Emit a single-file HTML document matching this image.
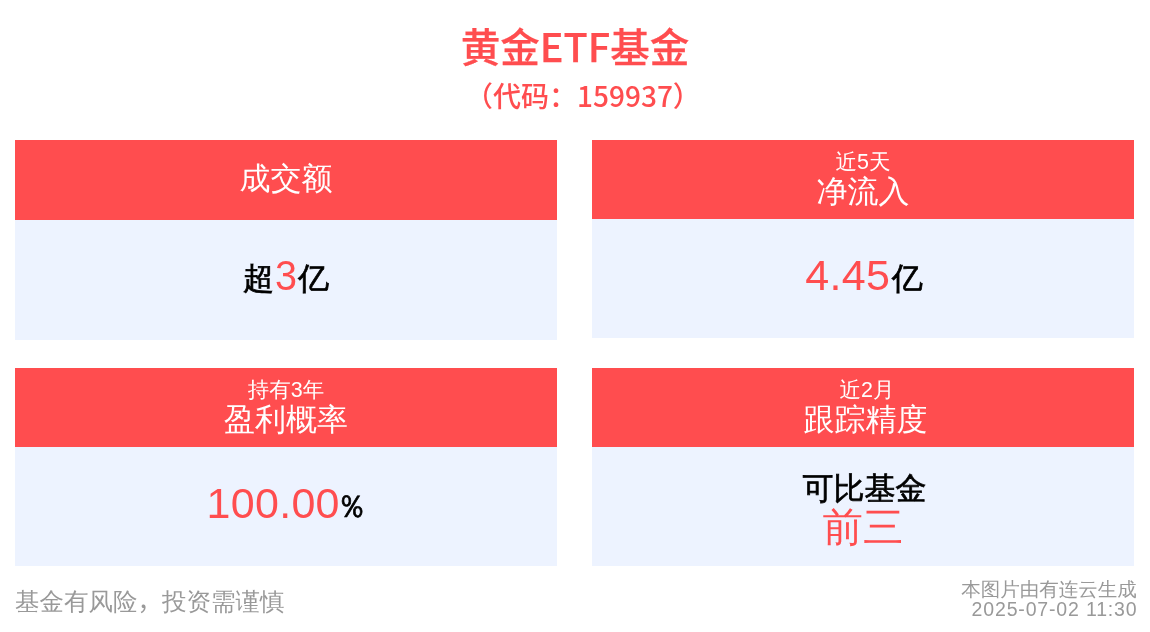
<!DOCTYPE html>
<html lang="zh-CN">
<head>
<meta charset="utf-8">
<title>黄金ETF基金</title>
<style>
html,body{margin:0;padding:0;background:#fff;}
body{width:1150px;height:632px;position:relative;overflow:hidden;
  font-family:"Liberation Sans","WenQuanYi Zen Hei",sans-serif;}
.title{position:absolute;left:0;width:1150px;text-align:center;color:#ff4d4f;white-space:nowrap;}
.t1{top:18px;font-size:39.6px;line-height:54px;font-weight:500;-webkit-text-stroke:0.25px #ff4d4f;font-family:"Noto Sans CJK SC","Liberation Sans",sans-serif;}
.t2{top:77px;left:8px;font-size:28px;line-height:36px;font-weight:500;font-family:"Noto Sans CJK SC","Liberation Sans",sans-serif;}
.card{position:absolute;width:542px;}
.hd{position:absolute;left:0;top:0;width:100%;background:#ff4d4f;color:#fff;text-align:center;}
.bd{position:absolute;left:0;width:100%;background:#edf3ff;text-align:center;}
.hd .sub{position:absolute;left:0;width:100%;font-size:21.5px;line-height:24px;white-space:nowrap;}
.hd .main{position:absolute;left:0;width:100%;font-size:31px;line-height:40px;white-space:nowrap;}
.val{position:absolute;left:0;width:100%;white-space:nowrap;color:#000;-webkit-text-stroke:0.7px #000;}
.val .red, .val.red{-webkit-text-stroke:0;}
.red{color:#ff4d4f;}
.foot{position:absolute;color:#999;white-space:nowrap;}
</style>
</head>
<body>
<div class="title t1">黄金ETF基金</div>
<div class="title t2">（代码：159937）</div>

<div class="card" style="left:15px;top:140px;height:200px;">
  <div class="hd" style="height:80px;"><div class="main" style="top:18.5px;">成交额</div></div>
  <div class="bd" style="top:80px;height:120px;"><div class="val" style="top:29px;font-size:31px;line-height:50px;">超<span class="red" style="font-size:43px;position:relative;top:1.2px;display:inline-block;transform:scaleX(0.92);">3</span>亿</div></div>
</div>

<div class="card" style="left:592px;top:140px;height:198px;">
  <div class="hd" style="height:79px;"><div class="sub" style="top:10px;">近5天</div><div class="main" style="top:31.5px;">净流入</div></div>
  <div class="bd" style="top:79px;height:119px;"><div class="val" style="top:29.5px;left:1px;font-size:31px;line-height:50px;"><span class="red" style="font-size:43px;letter-spacing:0.3px;position:relative;top:1.2px;">4.45</span><span style="margin-left:1.4px">亿</span></div></div>
</div>

<div class="card" style="left:15px;top:368px;height:198px;">
  <div class="hd" style="height:79px;"><div class="sub" style="top:10px;">持有3年</div><div class="main" style="top:31.5px;">盈利概率</div></div>
  <div class="bd" style="top:79px;height:119px;"><div class="val" style="top:29.5px;font-size:31px;line-height:50px;"><span class="red" style="font-size:43px;letter-spacing:0.3px;position:relative;top:1.2px;">100.00</span><span style="font-family:'WenQuanYi Zen Hei',sans-serif;margin-left:1.4px;margin-right:2.6px;">%</span></div></div>
</div>

<div class="card" style="left:592px;top:368px;height:198px;">
  <div class="hd" style="height:79px;"><div class="sub" style="top:10px;left:4px;">近2月</div><div class="main" style="top:31.5px;left:2.4px;">跟踪精度</div></div>
  <div class="bd" style="top:79px;height:119px;">
    <div class="val" style="top:21.5px;left:1.5px;font-size:31px;line-height:40px;">可比基金</div>
    <div class="val red" style="top:54.5px;font-size:40.5px;line-height:50px;">前三</div>
  </div>
</div>

<div class="foot" style="left:15px;top:586px;font-size:24.5px;line-height:32px;">基金有风险<span style="font-family:'Liberation Sans','Noto Sans CJK SC',sans-serif;">，</span>投资需谨慎</div>
<div class="foot" style="right:13.3px;top:578px;font-size:19.5px;line-height:22px;">本图片由有连云生成</div>
<div class="foot" style="right:12.6px;top:598px;font-size:19.5px;line-height:22px;letter-spacing:0.83px;">2025-07-02 11:30</div>
</body>
</html>
